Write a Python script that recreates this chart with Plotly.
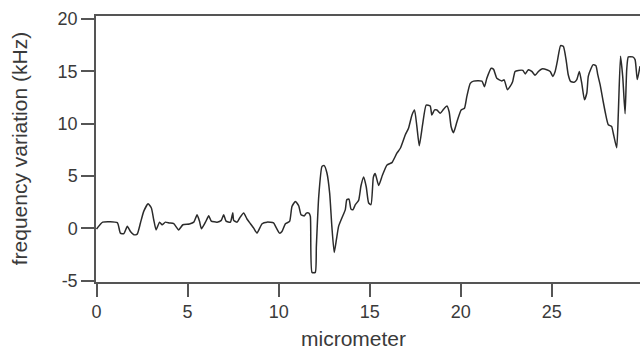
import plotly.graph_objects as go

# position along the sample (micrometer)
micrometer = [
    0.00, 0.34, 1.14, 1.31, 1.50, 1.69, 1.86, 2.05, 2.23, 2.41, 2.59, 2.83, 3.01, 3.14, 3.27,
    3.46, 3.60, 3.78, 4.00, 4.24, 4.51, 4.74, 5.10, 5.34, 5.52, 5.65, 5.76, 5.98, 6.16, 6.30,
    6.62, 6.85, 6.98, 7.11, 7.35, 7.48, 7.53, 7.72, 7.86, 8.08, 8.26, 8.45, 8.63, 8.81, 9.09,
    9.36, 9.72, 9.87, 10.05, 10.18, 10.37, 10.60, 10.73, 10.92, 11.10, 11.23, 11.41, 11.52, 11.66, 11.74,
    11.83, 12.01, 12.07, 12.20, 12.38, 12.50, 12.65, 12.80, 12.92, 13.05, 13.17, 13.29, 13.47, 13.66, 13.74,
    13.86, 13.97, 14.08, 14.21, 14.39, 14.52, 14.67, 14.81, 14.94, 15.07, 15.20, 15.30, 15.49, 15.70, 15.95,
    16.22, 16.49, 16.68, 16.95, 17.13, 17.32, 17.46, 17.59, 17.72, 17.90, 18.10, 18.32, 18.41, 18.56, 18.69,
    18.87, 19.05, 19.24, 19.36, 19.47, 19.60, 19.79, 20.02, 20.20, 20.33, 20.52, 20.70, 21.16, 21.30, 21.43,
    21.67, 21.80, 21.98, 22.25, 22.38, 22.56, 22.71, 22.85, 22.98, 23.16, 23.41, 23.54, 23.71, 23.90, 24.08,
    24.26, 24.45, 24.72, 24.91, 25.05, 25.18, 25.30, 25.48, 25.63, 25.78, 25.90, 26.03, 26.22, 26.37, 26.51,
    26.64, 26.79, 26.92, 27.00, 27.14, 27.27, 27.42, 27.52, 27.65, 27.80, 27.94, 28.10, 28.28, 28.37, 28.56,
    28.65, 28.77, 28.89, 29.02, 29.11, 29.20, 29.44, 29.57, 29.69, 29.84,
]

# frequency variation (kHz)
freq_khz = [
    -0.06, 0.60, 0.55, -0.45, -0.50, 0.20, -0.30, -0.60, -0.55, 0.52, 1.63, 2.35, 1.95, 0.83, -0.14,
    0.60, 0.35, 0.60, 0.52, 0.45, -0.14, 0.35, 0.42, 0.60, 1.30, 0.70, -0.03, 0.60, 1.20, 0.70,
    0.60, 0.77, 1.30, 0.70, 0.60, 1.50, 0.77, 0.60, 1.00, 1.47, 0.90, 0.45, 0.03, -0.45, 0.45,
    0.60, 0.52, 0.06, -0.45, -0.30, 0.45, 0.67, 2.10, 2.58, 2.17, 1.30, 1.20, 1.47, 1.47, 1.15,
    -4.20, -4.20, -1.70, 3.06, 5.93, 6.00, 5.30, 3.38, 0.20, -2.30, -1.08, 0.20, 1.00, 1.80, 2.74,
    2.80, 1.85, 1.79, 2.27, 2.68, 4.08, 4.91, 3.96, 2.43, 2.27, 4.90, 5.25, 4.10, 5.10, 6.07,
    6.29, 7.19, 7.66, 8.93, 9.57, 10.84, 11.32, 9.72, 7.90, 9.89, 11.79, 11.70, 10.84, 11.32, 11.32,
    11.00, 11.38, 11.70, 11.15, 9.72, 9.15, 10.20, 11.32, 11.48, 12.59, 13.86, 14.08, 14.08, 13.54, 14.34,
    15.30, 15.20, 14.34, 14.10, 14.20, 13.26, 13.57, 14.05, 15.00, 15.10, 15.10, 14.76, 15.17, 15.00, 14.63,
    15.00, 15.24, 15.17, 15.00, 14.53, 15.00, 15.96, 17.47, 17.40, 16.13, 14.69, 14.05, 13.96, 14.22, 15.00,
    13.90, 12.30, 12.94, 14.53, 15.24, 15.65, 15.55, 14.69, 13.74, 12.30, 11.03, 9.91, 9.75, 9.12, 7.70,
    11.03, 16.45, 14.53, 10.96, 15.17, 16.39, 16.39, 16.13, 14.22, 15.50,
]

x_ticks = [0, 5, 10, 15, 20, 25]
y_ticks = [-5, 0, 5, 10, 15, 20]
x_title = "micrometer"
y_title = "frequency variation (kHz)"

text_color = "#3a3a3a"
axis_color = "#555555"

fig = go.Figure()
fig.add_trace(go.Scatter(
    x=micrometer, y=freq_khz, mode="lines",
    line=dict(color="#2b2b2b", width=1.5, shape="spline", smoothing=0.5),
    hoverinfo="skip", showlegend=False,
))

fig.update_layout(
    width=640, height=354,
    margin=dict(l=96, r=0, t=16, b=72, autoexpand=False),
    paper_bgcolor="white", plot_bgcolor="white",
    font=dict(family="Liberation Sans, Arial, sans-serif", color=text_color),
    xaxis=dict(
        range=[-0.03, 29.84], tickvals=x_ticks, ticktext=[str(v) for v in x_ticks],
        showgrid=False, zeroline=False, automargin=False,
        showline=True, linecolor=axis_color, linewidth=1.5, mirror=True,
        ticks="outside", ticklen=13, tickwidth=1.5, tickcolor=axis_color,
        tickfont=dict(size=18, color=text_color),
    ),
    yaxis=dict(
        range=[-5.12, 20.3], tickvals=y_ticks, ticktext=[str(v) for v in y_ticks],
        showgrid=False, zeroline=False, automargin=False,
        showline=True, linecolor=axis_color, linewidth=1.5, mirror=False,
        ticks="outside", ticklen=13, tickwidth=1.5, tickcolor=axis_color,
        tickfont=dict(size=18, color=text_color),
    ),
    annotations=[
        dict(text=x_title, xref="x", yref="paper", x=14.1, y=-0.212,
             xanchor="center", yanchor="middle", showarrow=False,
             font=dict(size=21, color=text_color)),
        dict(text=y_title, xref="paper", yref="paper", x=-0.141, y=0.5,
             xanchor="center", yanchor="middle", showarrow=False, textangle=-90,
             font=dict(size=21, color=text_color)),
    ],
)

fig.write_html(
    "out.html",
    config={"displayModeBar": False},
    post_script="document.body.style.margin='0';document.body.style.overflow='hidden';",
)
